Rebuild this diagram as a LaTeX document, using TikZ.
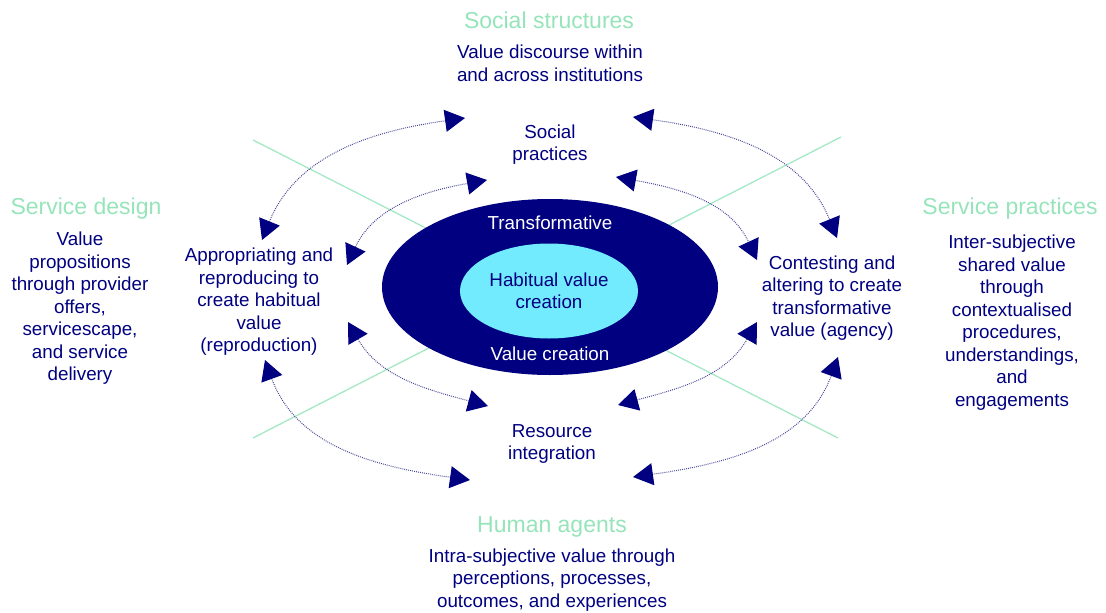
\documentclass[tikz,border=0pt]{standalone}
\usepackage{xcolor}
\usepackage{fontspec}
\setmainfont{Liberation Sans}
\usepackage{tikz}
\usetikzlibrary{shapes,arrows.meta}

\definecolor{deepnavy}{RGB}{0,0,128}
\definecolor{paleteal}{RGB}{115,235,255}
\definecolor{mint}{RGB}{150,228,185}
\definecolor{palemint}{RGB}{165,232,198}
\definecolor{dotnavy}{RGB}{70,70,150}

\begin{document}
\begin{tikzpicture}[x=1pt,y=1pt]
\tikzstyle{heading}=[text=mint, font=\fontsize{23}{27}\selectfont]
\tikzstyle{body}=[text=deepnavy, align=center, inner sep=0pt, font=\fontsize{18.8}{22.5}\selectfont]
\tikzstyle{ringtext}=[text=white, font=\fontsize{18.8}{22.5}\selectfont]
\tikzstyle{crossline}=[draw=palemint, line width=1.3pt]
\tikzstyle{flowarc}=[draw=dotnavy, line width=1pt, dash pattern=on 0.9pt off 1.1pt,
  {Triangle[length=20pt,width=22pt,color=deepnavy]}-{Triangle[length=20pt,width=22pt,color=deepnavy]}]
\useasboundingbox (0,0) rectangle (1106,-613);

% diagonals behind the rings
\coordinate (nw) at (253,-140);
\coordinate (se) at (838,-438);
\coordinate (ne) at (841,-137);
\coordinate (sw) at (253,-438);
\draw[crossline] (nw) -- (se);
\draw[crossline] (ne) -- (sw);

\node[ellipse, fill=deepnavy, minimum width=336pt, minimum height=176pt] (outer) at (550,-287) {};
\node[ellipse, fill=paleteal, minimum width=178pt, minimum height=95pt, body] (inner) at (549,-291) {Habitual value\\creation};
\node[ringtext] (transf) at (550,-223) {Transformative};
\node[ringtext] (valcre) at (550,-354) {Value creation};

% four corners
\node[heading] (socstr) at (549,-20) {Social structures};
\node[body] (socdisc) at (550,-63.5) {Value discourse within\\and across institutions};
\node[body] (socprac) at (550,-144.5) {Social\\practices};
\node[body] (resint) at (552,-444) {Resource\\integration};
\node[heading] (human) at (552,-527) {Human agents};
\node[body] (intra) at (552,-580) {Intra-subjective value through\\perceptions, processes,\\outcomes, and experiences};
\node[heading] (design) at (86,-209) {Service design};
\node[body] (props) at (80,-308.5) {Value\\propositions\\through provider\\offers,\\servicescape,\\and service\\delivery};
\node[heading] (servprac) at (1010,-209) {Service practices};
\node[body] (inter) at (1012,-322.5) {Inter-subjective\\shared value\\through\\contextualised\\procedures,\\understandings,\\and\\engagements};
\node[body] (approp) at (259,-302) {Appropriating and\\reproducing to\\create habitual\\value\\(reproduction)};
\node[body] (contest) at (832,-298) {Contesting and\\altering to create\\transformative\\value (agency)};

% double headed arcs round the rings
\coordinate (a1s) at (262,-240); \coordinate (a1e) at (465,-118);
\coordinate (a2s) at (347,-265); \coordinate (a2e) at (487,-180);
\coordinate (a3s) at (633,-117); \coordinate (a3e) at (837,-238);
\coordinate (a4s) at (616,-177); \coordinate (a4e) at (757,-260);
\coordinate (a5s) at (348,-322); \coordinate (a5e) at (488,-406);
\coordinate (a6s) at (265,-360); \coordinate (a6e) at (470,-480);
\coordinate (a7s) at (757,-322); \coordinate (a7e) at (618,-405);
\coordinate (a8s) at (838,-357); \coordinate (a8e) at (633,-477);
\draw[flowarc] (a1s) to[out=68,in=188] (a1e);
\draw[flowarc] (a2s) to[out=65,in=190] (a2e);
\draw[flowarc] (a3s) to[out=-8,in=112] (a3e);
\draw[flowarc] (a4s) to[out=-10,in=115] (a4e);
\draw[flowarc] (a5s) to[out=-60,in=165] (a5e);
\draw[flowarc] (a6s) to[out=-70,in=172] (a6e);
\draw[flowarc] (a7s) to[out=240,in=15] (a7e);
\draw[flowarc] (a8s) to[out=250,in=8] (a8e);
\end{tikzpicture}
\end{document}
